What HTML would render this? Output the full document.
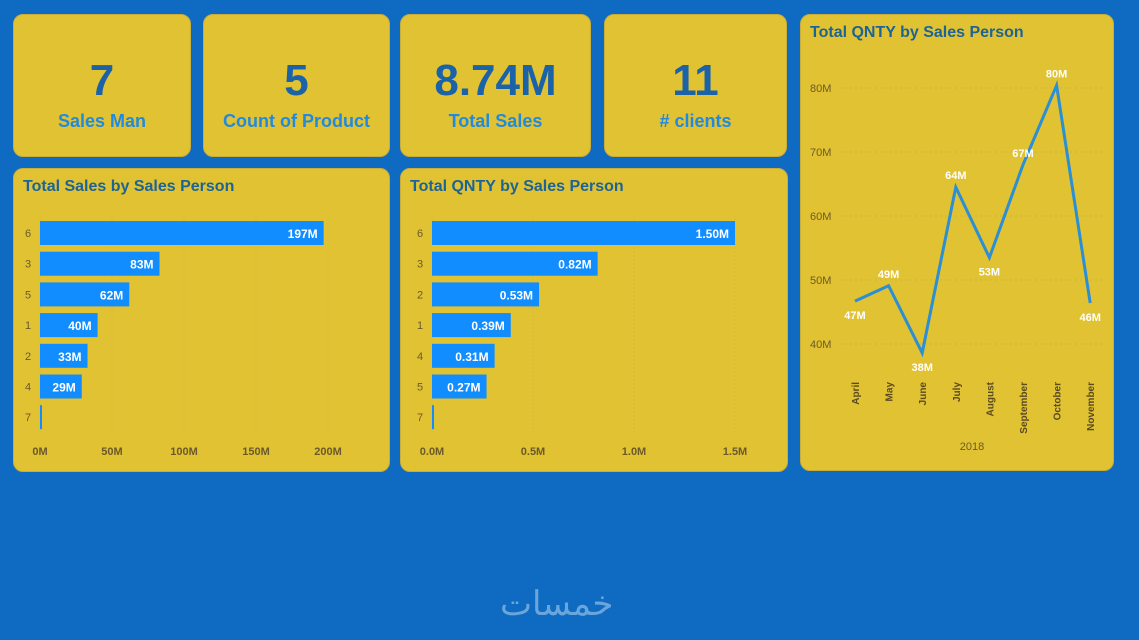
<!DOCTYPE html>
<html><head><meta charset="utf-8"><style>
body{margin:0;width:1139px;height:640px;background:#0f6bc1;position:relative;overflow:hidden;font-family:"Liberation Sans",sans-serif}
.card{position:absolute;background:#e1c232;border-radius:10px;border:1px solid #c9ad3a;box-sizing:border-box}
.kpi{text-align:center}
.kpi .v{position:absolute;left:0;right:0;top:40px;font-size:44px;font-weight:bold;color:#1a63a8;line-height:52px}
.kpi .l{position:absolute;left:0;right:0;top:96px;font-size:18px;font-weight:bold;color:#1f8ae0}
.title{position:absolute;left:9px;top:9px;font-size:16px;font-weight:bold;color:#1d6496}
svg text{font-family:"Liberation Sans",sans-serif}
</style></head><body>
<div class="card kpi" style="left:13px;top:14px;width:178px;height:143px"><div class="v">7</div><div class="l">Sales Man</div></div>
<div class="card kpi" style="left:203px;top:14px;width:187px;height:143px"><div class="v">5</div><div class="l">Count of Product</div></div>
<div class="card kpi" style="left:400px;top:14px;width:191px;height:143px"><div class="v">8.74M</div><div class="l">Total Sales</div></div>
<div class="card kpi" style="left:604px;top:14px;width:183px;height:143px"><div class="v">11</div><div class="l"># clients</div></div>

<div class="card" style="left:13px;top:168px;width:377px;height:304px"><div class="title">Total Sales by Sales Person</div></div>
<div class="card" style="left:400px;top:168px;width:388px;height:304px"><div class="title">Total QNTY by Sales Person</div></div>
<div class="card" style="left:800px;top:14px;width:314px;height:457px"><div class="title">Total QNTY by Sales Person</div></div>

<svg id="chart" width="1139" height="640" style="position:absolute;left:0;top:0"></svg>
<div style="position:absolute;left:500px;top:584px;font-size:34px;color:#6aa6dc;font-family:'Liberation Sans','Noto Sans CJK SC',sans-serif">خمسات</div>
<script>
const cats1=["6","3","5","1","2","4","7"];
const vals1=[197,83,62,40,33,29,1];
const labels1=["197M","83M","62M","40M","33M","29M",""];
const ticks1=[0,50,100,150,200];
const cats2=["6","3","2","1","4","5","7"];
const vals2=[1.50,0.82,0.53,0.39,0.31,0.27,0.01];
const labels2=["1.50M","0.82M","0.53M","0.39M","0.31M","0.27M",""];
const ticks2=[0,0.5,1.0,1.5];
const tickLabels2=["0.0M","0.5M","1.0M","1.5M"];
const months=["April","May","June","July","August","September","October","November"];
const lineVals=[46.7,49.1,38.6,64.5,53.5,68,80.4,46.4];
const lineLabels=["47M","49M","38M","64M","53M","67M","80M","46M"];
const yTicks=[40,50,60,70,80];
const svg=document.getElementById('chart');
const NS="http://www.w3.org/2000/svg";
function mk(t,a,txt){const e=document.createElementNS(NS,t);for(const k in a)e.setAttribute(k,a[k]);if(txt!==undefined)e.textContent=txt;svg.appendChild(e);return e;}
function barChart(cats,vals,labels,ticks,tl,x0,scale,name){
  const y=i=>233+i*30.7;
  ticks.forEach((t,i)=>{const x=x0+t*scale;
    const g=mk('line',{x1:x,x2:x,y1:215,y2:432,stroke:'#d5b83a','stroke-dasharray':'2,2'});
    
    const e=mk('text',{x:x,y:455,'text-anchor':'middle','font-size':11,'font-weight':'bold',fill:'#6b5a2a'},tl[i]);
    });
  cats.forEach((c,i)=>{
    const e=mk('text',{x:x0-12,y:y(i)+4,'text-anchor':'middle','font-size':11,fill:'#6b5a2a'},c);
    
    const w=Math.max(2,vals[i]*scale);
    const r=mk('rect',{x:x0,y:y(i)-12,width:w,height:24,fill:'#118dff'});
    
    if(labels[i]){const l=mk('text',{x:x0+w-6,y:y(i)+5,'text-anchor':'end','font-size':12,'font-weight':'bold',fill:'#fff'},labels[i]);
    }
  });
}
barChart(cats1,vals1,labels1,ticks1,ticks1.map(t=>t+"M"),40,1.44,'sales');
barChart(cats2,vals2,labels2,ticks2,tickLabels2,432,202,'qnty');
const lx=i=>855+i*33.6, ly=v=>344-(v-40)*6.4;
yTicks.forEach(t=>{const g=mk('line',{x1:840,x2:1105,y1:ly(t),y2:ly(t),stroke:'#d0b53e','stroke-dasharray':'2,3'});
  
  const e=mk('text',{x:810,y:ly(t)+4,'font-size':11,fill:'#6b5a2a'},t+"M");
  });
const pl=mk('polyline',{points:lineVals.map((v,i)=>lx(i)+','+ly(v)).join(' '),fill:'none',stroke:'#2b8fd6','stroke-width':3,'stroke-linejoin':'miter'});

const below=[true,false,true,false,true,false,false,true];
lineVals.forEach((v,i)=>{const yy=below[i]?ly(v)+18:ly(v)-8;
  const l=mk('text',{x:lx(i),y:yy,'text-anchor':'middle','font-size':11,'font-weight':'bold',fill:'#fff'},lineLabels[i]);
  
  const m=mk('text',{x:0,y:0,'font-size':10,'font-weight':'bold',fill:'#5a4a20','text-anchor':'end',transform:`translate(${lx(i)+4},382) rotate(-90)`},months[i]);
  });
const yr=mk('text',{x:972,y:450,'text-anchor':'middle','font-size':11,fill:'#6b5a2a'},'2018');

</script>
</body></html>
